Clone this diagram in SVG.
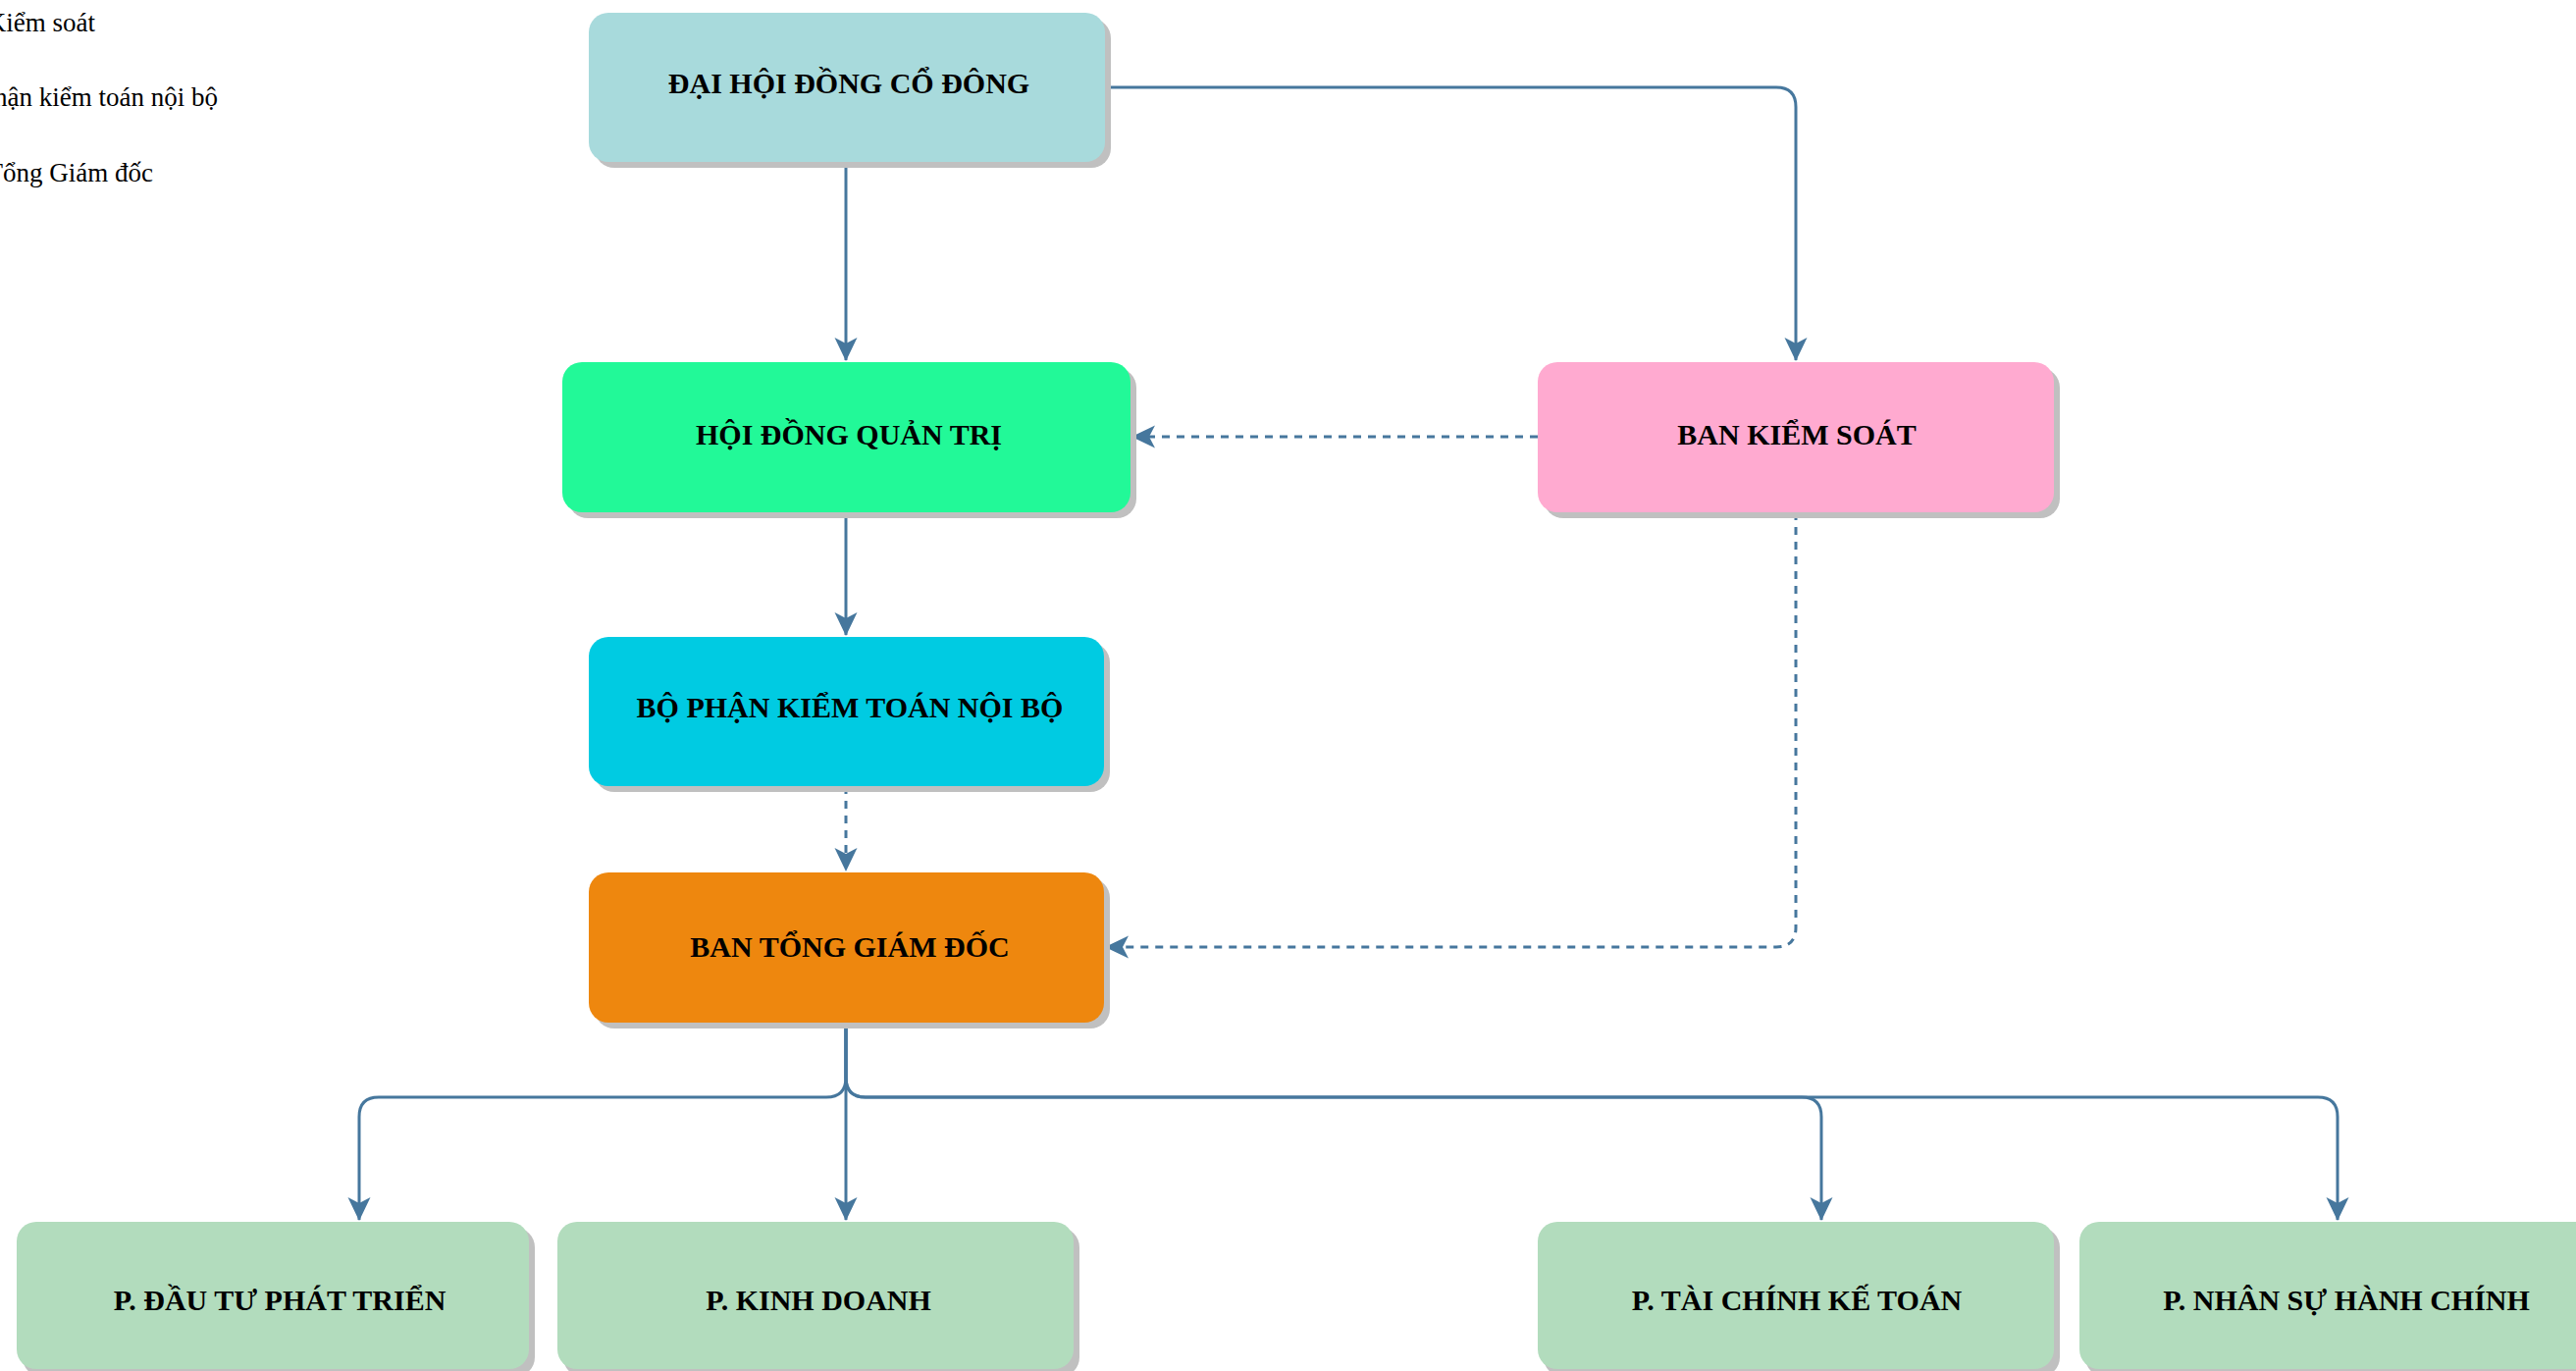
<svg xmlns="http://www.w3.org/2000/svg" width="2625" height="1397" viewBox="0 0 2625 1397">
<style>
.shadow{fill:#c0c0c0}
.lbl{font-family:"Liberation Serif","Times New Roman",serif;font-weight:bold;font-size:30px;fill:#000;text-anchor:middle}
.side{font-family:"Liberation Serif","Times New Roman",serif;font-size:27px;fill:#000;text-anchor:end}
.edge{fill:none;stroke:#46779d;stroke-width:3}
.dash{stroke-dasharray:8 7}
</style>
<defs>
<marker id="arr" viewBox="0 0 24 24" refX="23" refY="12" markerWidth="24" markerHeight="24" markerUnits="userSpaceOnUse" orient="auto">
<path d="M0,0.5 L24,12 L0,23.5 L6,12 Z" fill="#46779d"/>
</marker>
</defs>
<rect width="2625" height="1397" fill="#fff"/>
<g id="side-labels">
<text class="side" x="97" y="32">Ban Kiểm soát</text>
<text class="side" x="222" y="108">Bộ phận kiểm toán nội bộ</text>
<text class="side" x="156" y="185">Ban Tổng Giám đốc</text>
</g>
<g id="connectors">
<path class="edge" d="M862,165 L862,367" marker-end="url(#arr)"/>
<path class="edge" d="M1126,89 L1810,89 Q1830,89 1830,109 L1830,367" marker-end="url(#arr)"/>
<path class="edge" d="M862,522 L862,647" marker-end="url(#arr)"/>
<path class="edge dash" d="M862,801 L862,887" marker-end="url(#arr)"/>
<path class="edge dash" d="M1567,445 L1154,445" marker-end="url(#arr)"/>
<path class="edge dash" d="M1830,522 L1830,945 Q1830,965 1810,965 L1127,965" marker-end="url(#arr)"/>
<path class="edge" d="M862,1042 L862,1098 Q862,1118 842,1118 L386,1118 Q366,1118 366,1138 L366,1243" marker-end="url(#arr)"/>
<path class="edge" d="M862,1042 L862,1243" marker-end="url(#arr)"/>
<path class="edge" d="M862,1042 L862,1098 Q862,1118 882,1118 L1836,1118 Q1856,1118 1856,1138 L1856,1243" marker-end="url(#arr)"/>
<path class="edge" d="M862,1042 L862,1098 Q862,1118 882,1118 L2362,1118 Q2382,1118 2382,1138 L2382,1243" marker-end="url(#arr)"/>
</g>
<g id="node-dhdcd">
<rect class="shadow" x="606" y="19" width="526" height="152" rx="20"/>
<rect x="600" y="13" width="526" height="152" rx="20" fill="#a8dadc"/>
<text class="lbl" x="865" y="95">ĐẠI HỘI ĐỒNG CỔ ĐÔNG</text>
</g>
<g id="node-hdqt">
<rect class="shadow" x="579" y="375" width="579" height="153" rx="20"/>
<rect x="573" y="369" width="579" height="153" rx="20" fill="#22f998"/>
<text class="lbl" x="865" y="453">HỘI ĐỒNG QUẢN TRỊ</text>
</g>
<g id="node-bks">
<rect class="shadow" x="1573" y="375" width="526" height="153" rx="20"/>
<rect x="1567" y="369" width="526" height="153" rx="20" fill="#ffaad0"/>
<text class="lbl" x="1831" y="453">BAN KIỂM SOÁT</text>
</g>
<g id="node-bpktnb">
<rect class="shadow" x="606" y="655" width="525" height="152" rx="20"/>
<rect x="600" y="649" width="525" height="152" rx="20" fill="#00cbe2"/>
<text class="lbl" x="866" y="731">BỘ PHẬN KIỂM TOÁN NỘI BỘ</text>
</g>
<g id="node-btgd">
<rect class="shadow" x="606" y="895" width="525" height="153" rx="20"/>
<rect x="600" y="889" width="525" height="153" rx="20" fill="#ee870e"/>
<text class="lbl" x="866" y="975">BAN TỔNG GIÁM ĐỐC</text>
</g>
<g id="node-dtpt">
<rect class="shadow" x="23" y="1251" width="522" height="152" rx="20"/>
<rect x="17" y="1245" width="522" height="150" rx="20" fill="#b2dcbd"/>
<text class="lbl" x="285" y="1335">P. ĐẦU TƯ PHÁT TRIỂN</text>
</g>
<g id="node-kd">
<rect class="shadow" x="574" y="1251" width="526" height="152" rx="20"/>
<rect x="568" y="1245" width="526" height="150" rx="20" fill="#b2dcbd"/>
<text class="lbl" x="834" y="1335">P. KINH DOANH</text>
</g>
<g id="node-tckt">
<rect class="shadow" x="1573" y="1251" width="526" height="152" rx="20"/>
<rect x="1567" y="1245" width="526" height="150" rx="20" fill="#b2dcbd"/>
<text class="lbl" x="1831" y="1335">P. TÀI CHÍNH KẾ TOÁN</text>
</g>
<g id="node-nshc">
<rect class="shadow" x="2125" y="1251" width="526" height="152" rx="20"/>
<rect x="2119" y="1245" width="526" height="150" rx="20" fill="#b2dcbd"/>
<text class="lbl" x="2391" y="1335">P. NHÂN SỰ HÀNH CHÍNH</text>
</g>
</svg>
